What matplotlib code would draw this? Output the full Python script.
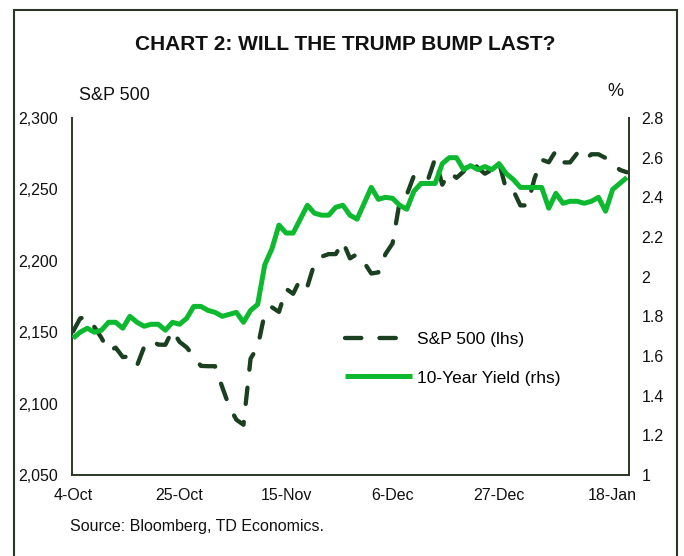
import matplotlib
matplotlib.use("Agg")
import matplotlib.pyplot as plt
from matplotlib.patches import Rectangle
from matplotlib.ticker import FuncFormatter, MultipleLocator

plt.rcParams['font.family'] = ['Liberation Sans', 'DejaVu Sans']

# daily points, 4-Oct-2016 .. 20-Jan-2017 (index = trading row in the source sheet)
tick_pos = [0, 15, 30, 45, 60, 76]
tick_labels = ['4-Oct', '25-Oct', '15-Nov', '6-Dec', '27-Dec', '18-Jan']

# S&P 500 level (lhs)
spx = [2150.5, 2159.7, 2160.8, 2153.7, 2146.0, 2136.7, 2139.2, 2132.6, 2133.0, 2126.5,
       2139.6, 2144.3, 2141.3, 2141.2, 2151.3, 2143.2, 2139.4, 2133.0, 2126.4, 2126.2,
       2126.2, 2111.7, 2097.9, 2088.7, 2085.2, 2131.5, 2139.6, 2163.3, 2167.5, 2164.2,
       2180.4, 2176.9, 2187.1, 2181.9, 2198.2, 2202.9, 2204.7, 2204.7, 2213.4, 2201.7,
       2204.7, 2198.8, 2191.1, 2191.9, 2204.7, 2212.2, 2241.4, 2246.2, 2259.5, 2257.0,
       2257.0, 2271.7, 2253.3, 2262.0, 2258.1, 2262.5, 2270.8, 2265.2, 2261.0, 2263.8,
       2268.9, 2249.9, 2249.3, 2238.8, 2238.8, 2257.8, 2270.8, 2269.0, 2277.0, 2268.9,
       2268.9, 2275.3, 2270.4, 2274.6, 2274.6, 2272.0, 2268.5, 2263.7, 2262.0]

# 10-year Treasury yield, % (rhs)
yld = [1.69, 1.72, 1.74, 1.72, 1.73, 1.77, 1.77, 1.74, 1.80, 1.77,
       1.75, 1.76, 1.76, 1.73, 1.77, 1.76, 1.79, 1.85, 1.85, 1.83,
       1.82, 1.80, 1.81, 1.82, 1.77, 1.83, 1.86, 2.06, 2.14, 2.26,
       2.22, 2.22, 2.29, 2.36, 2.32, 2.31, 2.31, 2.35, 2.36, 2.31,
       2.29, 2.37, 2.45, 2.39, 2.40, 2.395, 2.36, 2.34, 2.43, 2.47,
       2.47, 2.47, 2.57, 2.60, 2.60, 2.54, 2.56, 2.54, 2.555, 2.54,
       2.57, 2.52, 2.49, 2.45, 2.45, 2.45, 2.45, 2.345, 2.42, 2.37,
       2.38, 2.38, 2.37, 2.38, 2.40, 2.33, 2.44, 2.47, 2.50]

dark = '#1a4020'
green = '#0db92f'
frame = '#2c3624'
ink = '#111111'

fig = plt.figure(figsize=(6.84, 5.56), dpi=100)
ax = fig.add_axes([72 / 684, 1 - 475 / 556, (629 - 72) / 684, (475 - 118) / 556])
ax2 = ax.twinx()

x = list(range(len(spx)))
l1, = ax.plot(x, spx, color=dark, lw=3.1, dashes=(3.8, 4.2),
              dash_capstyle='round', solid_joinstyle='round', label='S&P 500 (lhs)')
l2, = ax2.plot(x, yld, color=green, lw=3.6, solid_joinstyle='round',
               solid_capstyle='butt', label='10-Year Yield (rhs)')

ax.set_xlim(-0.15, 78.3)
ax.set_ylim(2050, 2300)
ax2.set_ylim(1, 2.8)
ax.yaxis.set_major_locator(MultipleLocator(50))
ax.yaxis.set_major_formatter(FuncFormatter(lambda v, p: f'{v:,.0f}'))
ax2.yaxis.set_major_locator(MultipleLocator(0.2))
ax2.yaxis.set_major_formatter(FuncFormatter(lambda v, p: f'{v:g}'))
ax.set_xticks(tick_pos)
ax.set_xticklabels(tick_labels)

for a in (ax, ax2):
    a.spines['top'].set_visible(False)
    a.tick_params(length=0, labelsize=11.5, colors=ink)
    for s in a.spines.values():
        s.set_color(frame)
        s.set_linewidth(1.4)
ax.spines['right'].set_visible(False)
ax2.spines['left'].set_visible(False)
ax2.spines['bottom'].set_visible(False)
ax.tick_params(axis='y', pad=10)
ax.tick_params(axis='x', pad=9)
ax2.tick_params(axis='y', pad=9)

ax.legend(handles=[l1, l2], loc='upper left', bbox_to_anchor=(0.462, 0.445),
          frameon=False, fontsize=12.5, handlelength=3.85, handletextpad=0.3,
          labelspacing=1.35)

fig.text(0.505, 1 - 45 / 556, 'CHART 2: WILL THE TRUMP BUMP LAST?', ha='center', va='center',
         fontsize=15, fontweight='bold', color=ink)
fig.text(79 / 684, 1 - 96 / 556, 'S&P 500', ha='left', va='center', fontsize=13, color=ink)
fig.text(615 / 684, 1 - 92 / 556, '%', ha='center', va='center', fontsize=13, color=ink)
fig.text(70 / 684, 1 - 527 / 556, 'Source: Bloomberg, TD Economics.', ha='left', va='center',
         fontsize=11.5, color=ink)

fig.add_artist(Rectangle((14 / 684, -0.02), (677 - 14) / 684, (556 - 10) / 556 + 0.02,
                         transform=fig.transFigure, fill=False, edgecolor=frame, linewidth=1.5))

fig.savefig('out.png', dpi=100)
